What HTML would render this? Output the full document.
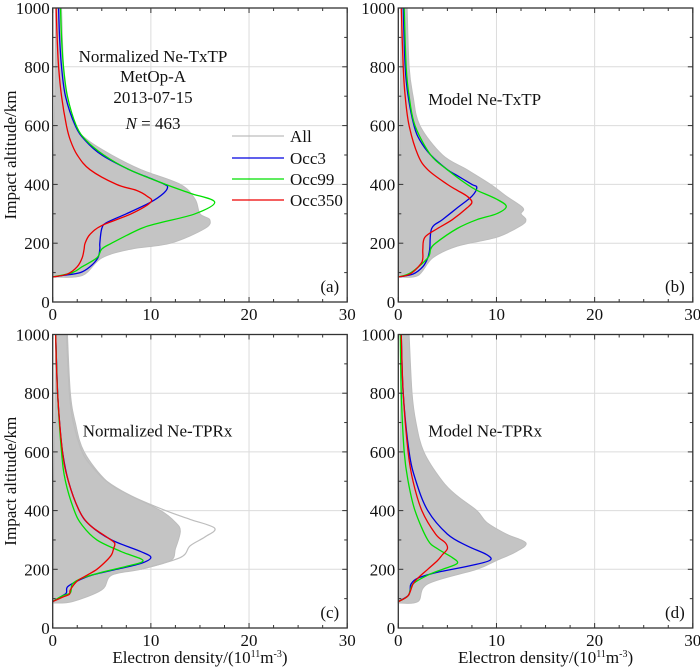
<!DOCTYPE html>
<html><head><meta charset="utf-8">
<style>
html,body{margin:0;padding:0;background:#fff;}
svg{display:block;font-family:"Liberation Serif",serif;}
</style></head>
<body>
<svg id="fig" width="700" height="667" viewBox="0 0 700 667" xmlns="http://www.w3.org/2000/svg"></svg>
<script>
// ---- data (altitude km, density 1e11 m^-3) ----
const panelIds = ['a','b','c','d'];
const panelTitles = ['Normalized Ne-TxTP','Model Ne-TxTP','Normalized Ne-TPRx','Model Ne-TPRx'];
const xTicks = [0,10,20,30];
const yTicks = [0,200,400,600,800,1000];
const seriesNames = ['All','Occ3','Occ99','Occ350'];
const seriesColors = ['#bdbdbd','#0000e0','#00e000','#ee0000'];

const occ3_a_alt = [85,90,100,120,150,180,200,250,270,300,340,370,390,400,420,450,500,550,600,700,800,900,1000];
const occ3_a_ne  = [0,1,2.8,3.8,4.6,4.8,4.8,5.0,5.5,7.5,10,11.3,11.7,11.4,10,7.8,5,3.3,2.3,1.3,0.9,0.7,0.6];
const occ99_a_alt = [85,100,120,150,180,200,250,270,300,340,370,400,450,500,550,600,700,800,900,1000];
const occ99_a_ne  = [0,2,3,4.5,5,6,9,11,14.5,16.5,14,11.5,7.8,5.2,3.4,2.4,1.5,1.1,0.9,0.8];
const occ350_a_alt = [85,95,120,150,180,200,230,260,300,340,360,380,400,450,500,550,600,700,800,900,1000];
const occ350_a_ne  = [0,1.5,2.5,3,3.2,3.3,3.8,5,8,10,9.6,8.5,6.5,3.8,2.5,1.8,1.4,0.9,0.6,0.45,0.35];
const all_a_alt = [85,90,150,180,200,250,280,300,350,400,450,500,550,600,700,800,1000];
const all_a_ne  = [0,3,5,8,12,15.5,16,15,14.5,13,9,6,3.6,2.2,1.4,1.1,0.9];

const occ3_b_alt = [85,95,120,150,180,250,280,320,360,390,400,430,450,500,550,600,700,800,1000];
const occ3_b_ne  = [0,1.5,2.5,3,3.2,3.4,4.5,6,7.5,8,7.5,6,5,3.3,2.2,1.6,1,0.7,0.5];
const occ99_b_alt = [85,100,150,180,200,250,280,300,325,350,380,400,450,500,600,700,800,1000];
const occ99_b_ne  = [0,1.3,3,3.3,3.8,6,8,10,11,10,8,7,5,3.3,1.7,1.1,0.8,0.6];
const occ350_b_alt = [85,95,130,150,180,220,250,280,320,340,360,380,400,450,500,600,700,800,1000];
const occ350_b_ne  = [0,1.2,2.3,2.5,2.5,2.7,4,5.5,7,7.5,7,6,5,3,2,1.1,0.7,0.5,0.3];
const all_b_alt = [85,90,150,190,220,260,280,300,320,360,400,450,500,600,700,800,1000];
const all_b_ne  = [0,2,3.5,6,10,12.5,13,12.5,12.7,11,9.4,7,4.5,2.2,1.5,1.1,0.9];

const occ3_c_alt = [90,110,120,140,160,180,200,220,240,260,300,350,400,500,600,700,800,1000];
const occ3_c_ne  = [0,1,1.4,1.5,2.5,4,6.5,9,10,9,6,3.8,2.7,1.6,1,0.7,0.5,0.3];
const occ99_c_alt = [90,110,120,150,170,190,210,230,260,300,350,400,500,600,800,1000];
const occ99_c_ne  = [0,1,1.8,2,3,5,7.5,9.2,7,4.5,3,2.2,1.3,0.9,0.5,0.3];
const occ350_c_alt = [90,105,115,130,160,180,200,230,250,270,290,310,350,400,500,600,800,1000];
const occ350_c_ne  = [0,1,1.7,1.8,2.5,3.5,4.5,5.5,6,6.2,6.3,5.5,3.8,2.7,1.6,1,0.5,0.3];
const all_c_alt = [85,90,130,180,200,230,270,330,360,400,450,500,600,700,800,1000];
const all_c_ne  = [0,2,5,6,9,12,12.5,13,12.5,11,8,5.5,3.2,2.3,1.8,1.5];
const outlier_c_alt = [200,240,280,310,340,370,400,450,500,550,600,700,800,1000];
const outlier_c_ne  = [9,13,14,15.5,16.5,14,11.5,8,5.5,4,3,2.1,1.7,1.4];

const occ3_d_alt = [90,110,130,150,170,190,210,230,250,280,320,400,500,600,800,1000];
const occ3_d_ne  = [0,1,1.2,1.3,2,4,7,9.3,9,7,5,3,1.8,1.1,0.5,0.3];
const occ99_d_alt = [90,110,150,180,200,220,240,270,300,400,500,600,800,1000];
const occ99_d_ne  = [0,1,1.5,3,4.5,6,5.5,4,3,1.7,1,0.6,0.3,0.2];
const occ350_d_alt = [90,110,150,170,200,230,250,270,290,320,400,500,600,800,1000];
const occ350_d_ne  = [0,1,1.5,2,3,4,4.5,5,4.8,3.8,2.4,1.5,1,0.5,0.3];
const all_d_alt = [85,90,150,200,230,260,290,320,360,400,450,500,600,700,800,1000];
const all_d_ne  = [0,2,3,8,10,12,13,11,9,8,6,4.5,2.6,1.8,1.4,1.1];

const panelData = {
  a:{all:[all_a_alt,all_a_ne],occ3:[occ3_a_alt,occ3_a_ne],occ99:[occ99_a_alt,occ99_a_ne],occ350:[occ350_a_alt,occ350_a_ne]},
  b:{all:[all_b_alt,all_b_ne],occ3:[occ3_b_alt,occ3_b_ne],occ99:[occ99_b_alt,occ99_b_ne],occ350:[occ350_b_alt,occ350_b_ne]},
  c:{all:[all_c_alt,all_c_ne],occ3:[occ3_c_alt,occ3_c_ne],occ99:[occ99_c_alt,occ99_c_ne],occ350:[occ350_c_alt,occ350_c_ne],out:[outlier_c_alt,outlier_c_ne]},
  d:{all:[all_d_alt,all_d_ne],occ3:[occ3_d_alt,occ3_d_ne],occ99:[occ99_d_alt,occ99_d_ne],occ350:[occ350_d_alt,occ350_d_ne]}
};

// ---- layout ----
const NS='http://www.w3.org/2000/svg';
const svg=document.getElementById('fig');
function mk(tag,attrs,parent){const e=document.createElementNS(NS,tag);for(const k in attrs)e.setAttribute(k,attrs[k]);(parent||svg).appendChild(e);return e;}
function smooth(P){
  let s='M'+P[0][0].toFixed(2)+','+P[0][1].toFixed(2);
  for(let i=0;i<P.length-1;i++){
    const p0=P[Math.max(0,i-1)],p1=P[i],p2=P[i+1],p3=P[Math.min(P.length-1,i+2)];
    const c1=[p1[0]+(p2[0]-p0[0])/6,p1[1]+(p2[1]-p0[1])/6];
    const c2=[p2[0]-(p3[0]-p1[0])/6,p2[1]-(p3[1]-p1[1])/6];
    s+='C'+c1[0].toFixed(2)+','+c1[1].toFixed(2)+' '+c2[0].toFixed(2)+','+c2[1].toFixed(2)+' '+p2[0].toFixed(2)+','+p2[1].toFixed(2);
  }
  return s;
}
const boxes={a:[52.7,8,294.5,294],b:[398.3,8,294.5,294],c:[52.7,334.5,294.5,293.5],d:[398.3,334.5,294.5,293.5]};

panelIds.forEach((id,pi)=>{
  const [x0,y0,w,h]=boxes[id];
  const X=v=>x0+v/30*w;
  const Y=v=>y0+h-v/1000*h;
  const g=mk('g',{});
  
  
  xTicks.slice(1,-1).forEach(t=>{const l=mk('line',{x1:X(t),x2:X(t),y1:y0,y2:y0+h,stroke:'#dcdcdc','stroke-width':1},g);});
  yTicks.slice(1,-1).forEach(t=>{const l=mk('line',{x1:x0,x2:x0+w,y1:Y(t),y2:Y(t),stroke:'#dcdcdc','stroke-width':1},g);});
  const d=panelData[id];
  const [aa,an]=d.all;
  const P=aa.map((a,i)=>[X(an[i]),Y(a)]);
  const env=mk('path',{d:smooth(P)+'L'+X(0.3)+','+Y(1000)+'L'+X(0)+','+Y(85)+'Z',fill:'#c4c4c4',stroke:'#bdbdbd','stroke-width':1},g);
  
  
  if(d.out){
    const [oa,on]=d.out;
    const o=mk('path',{d:smooth(oa.map((a,i)=>[X(on[i]),Y(a)])),fill:'none',stroke:'#bdbdbd','stroke-width':1.2},g);
    
    
  }
  [['occ3',1],['occ99',2],['occ350',3]].forEach(([k,ci])=>{
    const [al,ne]=d[k];
    const p=mk('path',{d:smooth(al.map((a,i)=>[X(ne[i]),Y(a)])),fill:'none',stroke:seriesColors[ci],'stroke-width':1.3},g);
    
    
  });
  const fr=mk('rect',{x:x0,y:y0,width:w,height:h,fill:'none',stroke:'#333','stroke-width':1.3},g);
  
  
  for(let t=0;t<=30;t+=2.5){const L=(t%10===0)?5:3;
    mk('line',{x1:X(t),x2:X(t),y1:y0+h,y2:y0+h-L,stroke:'#333'},g);
    mk('line',{x1:X(t),x2:X(t),y1:y0,y2:y0+L,stroke:'#333'},g);}
  for(let t=0;t<=1000;t+=100){const L=(t%200===0)?5:3;
    mk('line',{x1:x0,x2:x0+L,y1:Y(t),y2:Y(t),stroke:'#333'},g);
    mk('line',{x1:x0+w,x2:x0+w-L,y1:Y(t),y2:Y(t),stroke:'#333'},g);}
  xTicks.forEach(t=>{const tx=mk('text',{x:X(t),y:y0+h+18,'font-size':17,'text-anchor':'middle',fill:'#111'},g);tx.textContent=t;});
  yTicks.forEach(t=>{const tx=mk('text',{x:x0-3,y:Y(t)+6,'font-size':17,'text-anchor':'end',fill:'#111'},g);tx.textContent=t;});
  const pl=mk('text',{x:x0+w-8,y:y0+h-10,'font-size':17,'text-anchor':'end',fill:'#111'},g);
  pl.textContent='('+id+')';
  
  
  const tl=mk('text',{x:pi===0?153:x0+30,y:pi===0?62:(pi===1?y0+97:y0+102),'font-size':17,'text-anchor':pi===0?'middle':'start',fill:'#111'},g);
  tl.textContent=panelTitles[pi];
  
  
  if(id==='a'||id==='c'){
    const yl=mk('text',{x:0,y:0,'font-size':17,'text-anchor':'middle',fill:'#111',transform:'translate(16,'+(y0+h/2)+') rotate(-90)'},g);
    yl.textContent='Impact altitude/km';
    
    
  }
  if(id==='c'||id==='d'){
    const xl=mk('text',{x:x0+w/2,y:663,'font-size':17,'text-anchor':'middle',fill:'#111'},g);
    xl.innerHTML='Electron density/(10<tspan dy="-6" font-size="10">11</tspan><tspan dy="6">m</tspan><tspan dy="-6" font-size="10">-3</tspan><tspan dy="6">)</tspan>';
    
    
  }
});

const info=[['MetOp-A',82],['2013-07-15',103]];
info.forEach(([s,y])=>{const t=mk('text',{x:153,y:y,'font-size':17,'text-anchor':'middle',fill:'#111'});t.textContent=s;});
const nt=mk('text',{x:153,y:129,'font-size':17,'text-anchor':'middle',fill:'#111'});
nt.innerHTML='<tspan font-style="italic">N</tspan> = 463';



const leg=mk('g',{});


const legY=[136,158,179,200];
seriesNames.forEach((n,i)=>{
  const l=mk('line',{x1:232,x2:284,y1:legY[i],y2:legY[i],stroke:seriesColors[i],'stroke-width':1.3},leg);
  
  
  const t=mk('text',{x:290,y:legY[i]+6,'font-size':17,fill:'#111'},leg);
  t.textContent=n;
  
  
});
</script>
</body></html>
